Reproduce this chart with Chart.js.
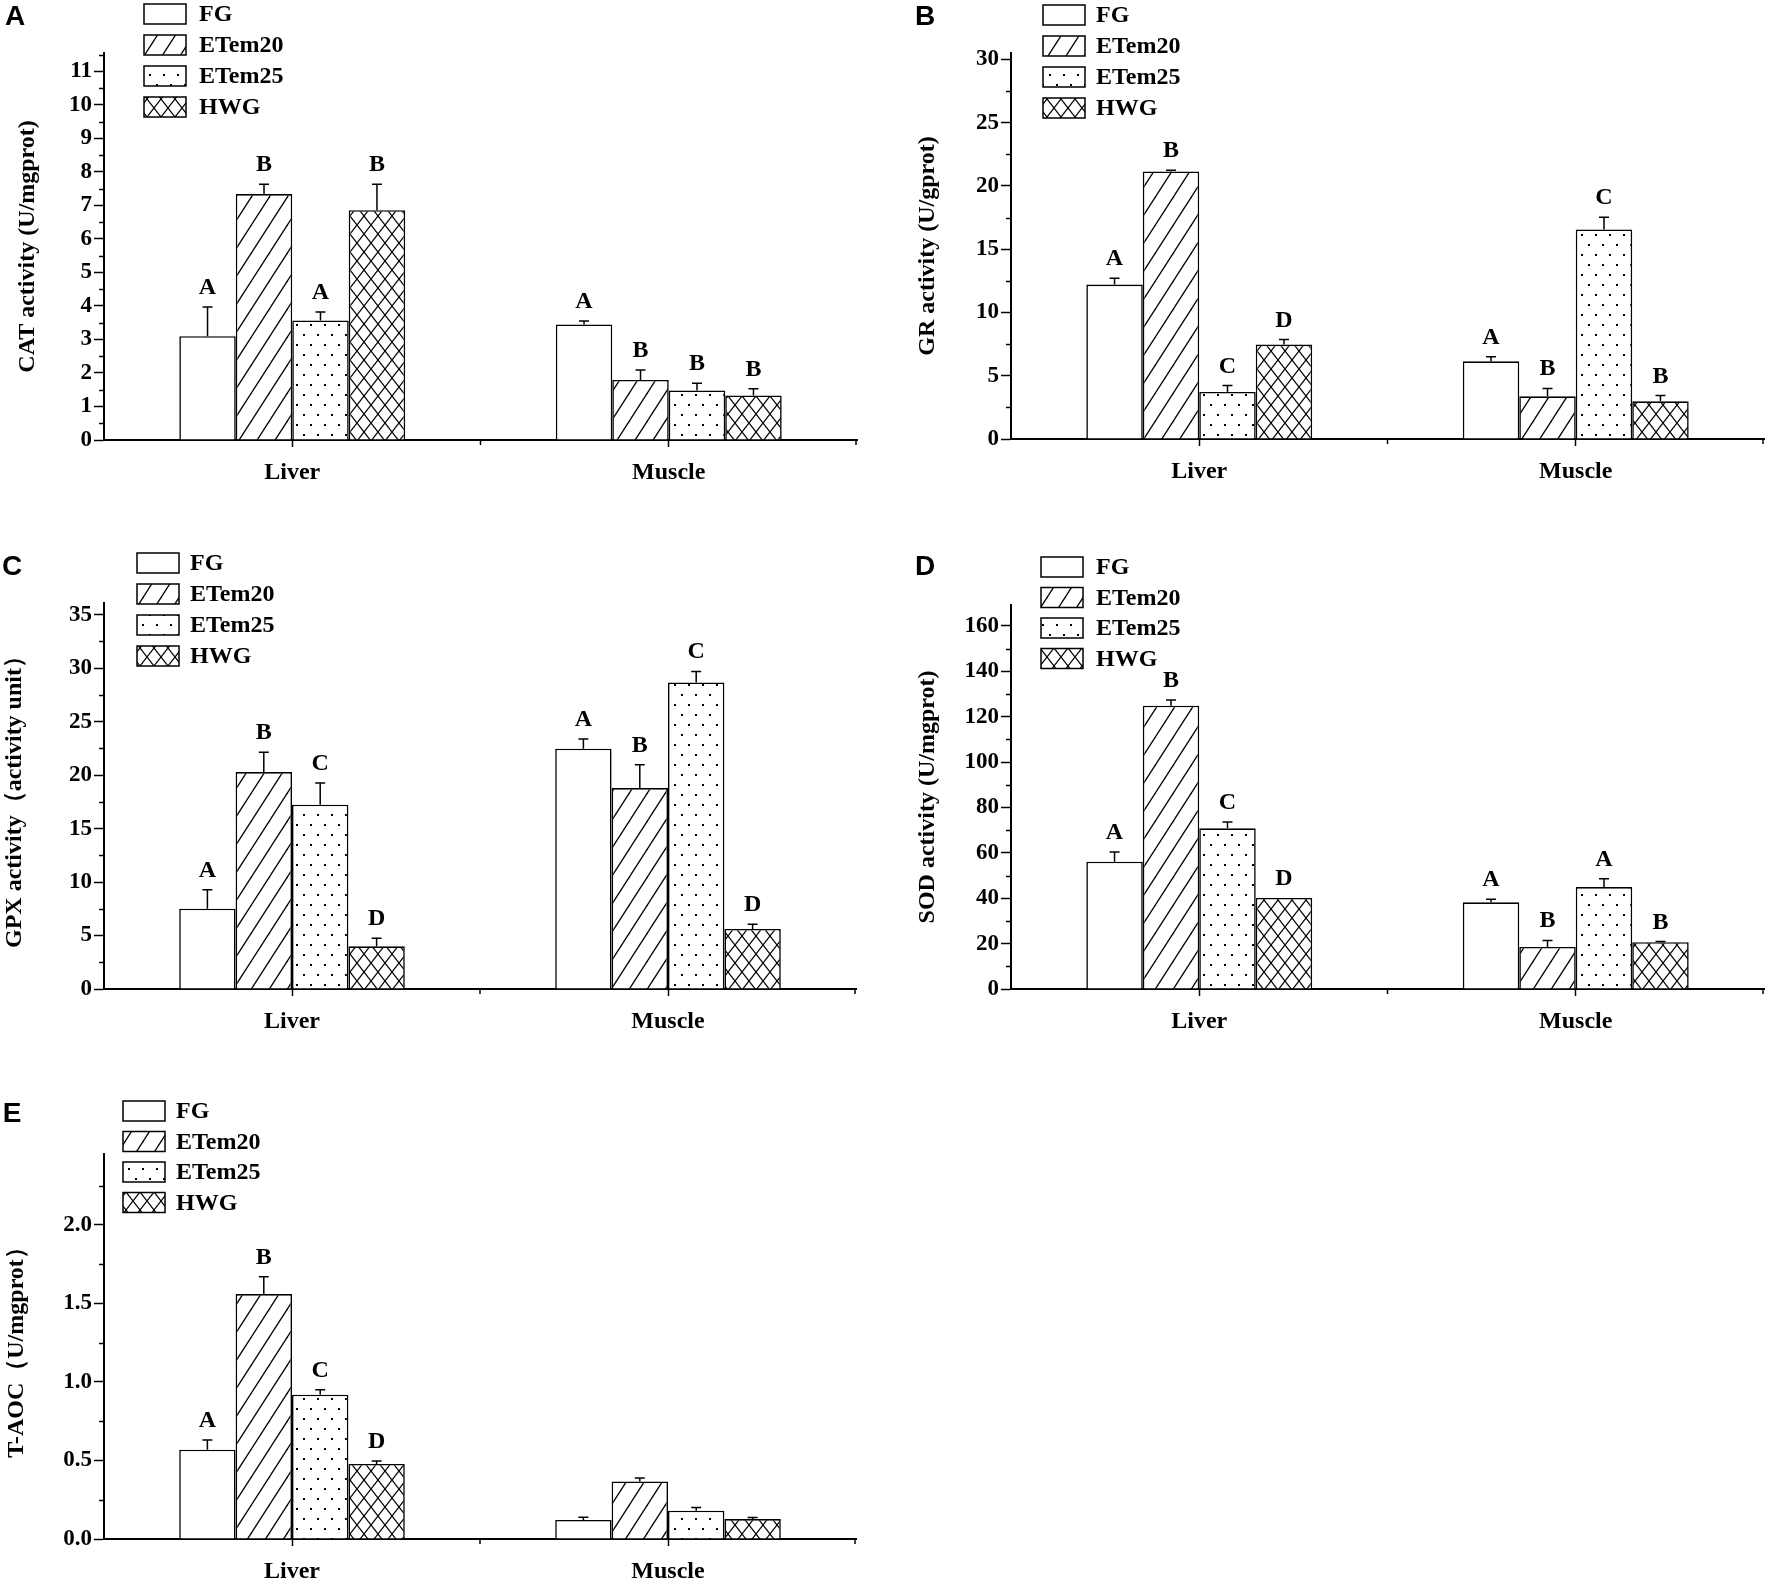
<!DOCTYPE html>
<html>
<head>
<meta charset="utf-8">
<script src="https://cdn.jsdelivr.net/npm/chart.js@4.4.1/dist/chart.umd.min.js"></script>
<style>
  html, body { margin: 0; padding: 0; background: #fff; }
  #page { position: relative; width: 1772px; height: 1584px; background: #fff; overflow: hidden; }
  #page canvas { position: absolute; }
</style>
</head>
<body>
<div id="page">
  <canvas id="panel-a" width="886" height="540" style="left:0;top:0"></canvas>
  <canvas id="panel-b" width="886" height="540" style="left:886px;top:0"></canvas>
  <canvas id="panel-c" width="886" height="544" style="left:0;top:540px"></canvas>
  <canvas id="panel-d" width="886" height="544" style="left:886px;top:540px"></canvas>
  <canvas id="panel-e" width="886" height="500" style="left:0;top:1084px"></canvas>
</div>
<script>
const categories = ['Liver', 'Muscle'];
const groups = ['FG', 'ETem20', 'ETem25', 'HWG'];

// rows = Liver, Muscle ; columns follow `groups`
const catMean = [[3.10, 7.34, 3.57, 6.86], [3.45, 1.79, 1.48, 1.33]];
const catErr  = [[0.87, 0.29, 0.25, 0.77], [0.10, 0.30, 0.21, 0.20]];
const catSig  = [['A', 'B', 'A', 'B'], ['A', 'B', 'B', 'B']];
const catTicks = [0, 1, 2, 3, 4, 5, 6, 7, 8, 9, 10, 11];

const grMean = [[12.2, 21.14, 3.72, 7.46], [6.14, 3.37, 16.56, 2.98]];
const grErr  = [[0.5, 0.1, 0.5, 0.4], [0.35, 0.63, 0.97, 0.45]];
const grSig  = [['A', 'B', 'C', 'D'], ['A', 'B', 'C', 'B']];
const grTicks = [0, 5, 10, 15, 20, 25, 30];

const gpxMean = [[7.51, 20.29, 17.23, 3.99], [22.47, 18.79, 28.67, 5.61]];
const gpxErr  = [[1.78, 1.84, 2.03, 0.75], [0.9, 2.18, 1.03, 0.44]];
const gpxSig  = [['A', 'B', 'C', 'D'], ['A', 'B', 'C', 'D']];
const gpxTicks = [0, 5, 10, 15, 20, 25, 30, 35];

const sodMean = [[56.1, 124.8, 70.8, 40.1], [38.2, 18.5, 44.9, 20.6]];
const sodErr  = [[4.3, 2.5, 2.8, 0], [1.4, 2.9, 3.7, 0.3]];
const sodSig  = [['A', 'B', 'C', 'D'], ['A', 'B', 'A', 'B']];
const sodTicks = [0, 20, 40, 60, 80, 100, 120, 140, 160];

const taocMean = [[0.569, 1.56, 0.919, 0.478], [0.121, 0.367, 0.18, 0.127]];
const taocErr  = [[0.062, 0.11, 0.032, 0.019], [0.017, 0.022, 0.02, 0.01]];
const taocSig  = [['A', 'B', 'C', 'D'], ['', '', '', '']];
const taocTicks = [0, 0.5, 1.0, 1.5, 2.0];

const SERIF = '"Liberation Serif", "Times New Roman", serif';
const SANS = '"Liberation Sans", Arial, sans-serif';

// fill patterns
function makeTile(w, h, draw) {
  const c = document.createElement('canvas');
  c.width = w; c.height = h;
  const g = c.getContext('2d');
  g.fillStyle = '#fff';
  g.fillRect(0, 0, w, h);
  g.strokeStyle = '#000';
  g.fillStyle = '#000';
  draw(g, w, h);
  return g.createPattern(c, 'repeat');
}
function rising(g, w, h) {
  for (let n = 0; n <= 2; n++) {
    g.beginPath();
    g.moveTo(-w, h * (n + 1));
    g.lineTo(2 * w, h * (n - 2));
    g.stroke();
  }
}
function falling(g, w, h) {
  for (let n = -1; n <= 1; n++) {
    g.beginPath();
    g.moveTo(-w, h * (-1 - n));
    g.lineTo(2 * w, h * (2 - n));
    g.stroke();
  }
}
const patterns = [
  '#fff',
  makeTile(18, 28, (g, w, h) => { g.lineWidth = 1.3; rising(g, w, h); }),
  makeTile(14, 20, (g) => { g.fillRect(2, 4, 2, 2); g.fillRect(9, 14, 2, 2); }),
  makeTile(14, 18, (g, w, h) => { g.lineWidth = 1.2; rising(g, w, h); falling(g, w, h); }),
];

const panelExtras = {
  id: 'panelExtras',
  afterDatasetsDraw(chart, args, opts) {
    const { ctx } = chart;
    const y = chart.scales.y;
    ctx.save();
    ctx.strokeStyle = '#000';
    ctx.fillStyle = '#000';
    ctx.lineWidth = 1.5;
    ctx.font = 'bold 24px ' + SERIF;
    ctx.textAlign = 'center';
    ctx.textBaseline = 'alphabetic';
    chart.data.datasets.forEach((ds, di) => {
      chart.getDatasetMeta(di).data.forEach((bar, i) => {
        const top = y.getPixelForValue(ds.data[i] + ds.errors[i]);
        if (ds.errors[i] > 0) {
          ctx.beginPath();
          ctx.moveTo(bar.x, bar.y);
          ctx.lineTo(bar.x, top);
          ctx.moveTo(bar.x - 5, top);
          ctx.lineTo(bar.x + 5, top);
          ctx.stroke();
        }
        if (ds.sig[i]) ctx.fillText(ds.sig[i], bar.x, top - 13);
      });
    });
    ctx.restore();
  },
  afterDraw(chart, args, opts) {
    const { ctx, chartArea } = chart;
    const y = chart.scales.y;
    const x = chart.scales.x;
    ctx.save();
    ctx.strokeStyle = '#000';
    ctx.lineWidth = 1.5;
    // minor ticks on y
    const majors = y.ticks.map(t => t.value);
    for (let k = 1; k * opts.minor < y.max; k++) {
      const v = k * opts.minor;
      if (majors.some(m => Math.abs(m - v) < 1e-9)) continue;
      const py = Math.round(y.getPixelForValue(v)) + 0.5;
      ctx.beginPath();
      ctx.moveTo(chartArea.left - 5, py);
      ctx.lineTo(chartArea.left, py);
      ctx.stroke();
    }
    // boundary ticks on x
    const mid = (x.getPixelForTick(0) + x.getPixelForTick(1)) / 2;
    [mid, chartArea.right - 1].forEach(px => {
      ctx.beginPath();
      ctx.moveTo(px, chartArea.bottom);
      ctx.lineTo(px, chartArea.bottom + 5);
      ctx.stroke();
    });
    // legend
    const lg = opts.legend;
    ctx.font = 'bold 24px ' + SERIF;
    ctx.textAlign = 'left';
    ctx.textBaseline = 'middle';
    chart.data.datasets.forEach((ds, i) => {
      const top = lg.y + i * lg.step;
      ctx.fillStyle = ds.backgroundColor;
      ctx.fillRect(lg.x, top, 42, 20);
      ctx.lineWidth = 1.5;
      ctx.strokeRect(lg.x, top, 42, 20);
      ctx.fillStyle = '#000';
      ctx.fillText(ds.label, lg.textX, top + 11);
    });
    // panel tag
    ctx.font = 'bold 28px ' + SANS;
    ctx.textAlign = 'center';
    ctx.textBaseline = 'middle';
    ctx.fillText(opts.tag.text, opts.tag.x, opts.tag.y);
    ctx.restore();
  }
};

function makePanel(id, p) {
  const datasets = groups.map((g, gi) => ({
    label: g,
    data: p.mean.map(row => row[gi]),
    errors: p.err.map(row => row[gi]),
    sig: p.sig.map(row => row[gi]),
    backgroundColor: patterns[gi],
    borderColor: '#000',
    borderWidth: 1.6,
    categoryPercentage: 0.6,
    barPercentage: 1.0,
  }));
  const canvas = document.getElementById(id);
  return new Chart(canvas.getContext('2d'), {
    type: 'bar',
    data: { labels: categories, datasets },
    options: {
      responsive: false,
      animation: false,
      events: [],
      layout: { padding: { left: 0, top: p.top, right: canvas.width - p.right, bottom: canvas.height - p.bottom - 45 } },
      plugins: {
        legend: { display: false },
        tooltip: { enabled: false },
        panelExtras: { minor: p.minor, legend: p.legend, tag: p.tag },
      },
      scales: {
        x: {
          type: 'category',
          offset: true,
          afterFit: s => { s.height = 45; },
          grid: { offset: false, drawOnChartArea: false, drawTicks: true, tickLength: 7, tickWidth: 1.5, tickColor: '#000' },
          border: { display: true, color: '#000', width: 2 },
          ticks: { color: '#000', padding: 11, font: { family: SERIF, size: 24, weight: 'bold' } },
        },
        y: {
          type: 'linear',
          min: 0,
          max: p.max,
          afterFit: s => { s.width = p.left; },
          afterBuildTicks: s => { s.ticks = p.ticks.map(v => ({ value: v })); },
          grid: { drawOnChartArea: false, drawTicks: true, tickLength: 10, tickWidth: 1.5, tickColor: '#000' },
          border: { display: true, color: '#000', width: 2 },
          ticks: {
            color: '#000', padding: 2,
            font: { family: SERIF, size: 23, weight: 'bold' },
            callback: v => p.decimals ? Number(v).toFixed(p.decimals) : String(v),
          },
          title: {
            display: true, text: p.title, color: '#000',
            padding: { top: p.titlePad, bottom: 0 },
            font: { family: SERIF, size: 24, weight: 'bold' },
          },
        },
      },
    },
    plugins: [panelExtras],
  });
}

makePanel('panel-a', {
  mean: catMean, err: catErr, sig: catSig, ticks: catTicks, max: 11.55, minor: 0.5,
  left: 104, right: 857, top: 53, bottom: 440, titlePad: 13,
  title: 'CAT activity (U/mgprot)',
  legend: { x: 144, y: 4, step: 31, textX: 199 },
  tag: { text: 'A', x: 15, y: 17 },
});
makePanel('panel-b', {
  mean: grMean, err: grErr, sig: grSig, ticks: grTicks, max: 30.5, minor: 2.5,
  left: 125, right: 878, top: 53, bottom: 439, titlePad: 27,
  title: 'GR activity (U/gprot)',
  legend: { x: 157, y: 5, step: 31, textX: 210 },
  tag: { text: 'B', x: 39, y: 17 },
});
makePanel('panel-c', {
  mean: gpxMean, err: gpxErr, sig: gpxSig, ticks: gpxTicks, max: 36.1, minor: 2.5,
  left: 104, right: 856, top: 63, bottom: 449, titlePad: 0,
  title: 'GPX activity（activity unit）',
  legend: { x: 137, y: 13, step: 31, textX: 190 },
  tag: { text: 'C', x: 12, y: 27 },
});
makePanel('panel-d', {
  mean: sodMean, err: sodErr, sig: sodSig, ticks: sodTicks, max: 169.2, minor: 10,
  left: 125, right: 878, top: 65, bottom: 449, titlePad: 27,
  title: 'SOD activity (U/mgprot)',
  legend: { x: 155, y: 17, step: 30.5, textX: 210 },
  tag: { text: 'D', x: 39, y: 27 },
});
makePanel('panel-e', {
  mean: taocMean, err: taocErr, sig: taocSig, ticks: taocTicks, max: 2.452, minor: 0.25, decimals: 1,
  left: 104, right: 856, top: 70, bottom: 455, titlePad: 2,
  title: 'T-AOC（U/mgprot）',
  legend: { x: 123, y: 17, step: 30.5, textX: 176 },
  tag: { text: 'E', x: 12, y: 30 },
});
</script>
</body>
</html>
